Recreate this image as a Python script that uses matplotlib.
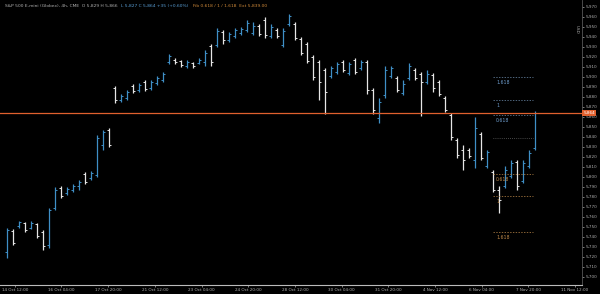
import numpy as np
import matplotlib.pyplot as plt

# OHLC bars (price units)
opens = [5725, 5746, 5751, 5754, 5749, 5753, 5745, 5732, 5769, 5789,
         5784, 5787, 5791, 5803, 5799, 5802, 5832, 5847, 5889, 5877,
         5879, 5891, 5887, 5895, 5889, 5894, 5897, 5915, 5917, 5916,
         5911, 5914, 5914, 5915, 5931, 5932, 5945, 5937, 5941, 5944,
         5947, 5944, 5951, 5957, 5941, 5947, 5932, 5953, 5953, 5938,
         5933, 5920, 5915, 5907, 5901, 5905, 5915, 5904, 5917, 5909,
         5915, 5887, 5859, 5882, 5901, 5899, 5884, 5899, 5907, 5903,
         5895, 5902, 5895, 5879, 5862, 5837, 5827, 5827, 5817, 5843,
         5811, 5805, 5787, 5791, 5801, 5815, 5796, 5811, 5829]
highs = [5749, 5748, 5756, 5755, 5756, 5754, 5747, 5769, 5790, 5791,
         5790, 5793, 5797, 5805, 5806, 5842, 5847, 5849, 5891, 5883,
         5887, 5893, 5894, 5897, 5897, 5901, 5905, 5923, 5919, 5917,
         5917, 5915, 5919, 5927, 5933, 5949, 5947, 5945, 5949, 5950,
         5957, 5955, 5953, 5960, 5953, 5949, 5949, 5963, 5955, 5940,
         5935, 5922, 5917, 5909, 5911, 5915, 5917, 5915, 5919, 5917,
         5917, 5889, 5879, 5911, 5911, 5901, 5897, 5914, 5909, 5905,
         5907, 5904, 5897, 5881, 5864, 5839, 5832, 5829, 5860, 5845,
         5827, 5807, 5791, 5811, 5817, 5817, 5817, 5827, 5866]
lows = [5719, 5732, 5749, 5745, 5748, 5739, 5727, 5729, 5767, 5779,
        5782, 5785, 5787, 5793, 5797, 5800, 5827, 5830, 5874, 5875,
        5877, 5884, 5885, 5886, 5887, 5892, 5895, 5913, 5913, 5910,
        5909, 5909, 5913, 5911, 5911, 5930, 5933, 5935, 5939, 5942,
        5945, 5942, 5941, 5939, 5939, 5939, 5930, 5951, 5937, 5922,
        5914, 5897, 5877, 5863, 5899, 5903, 5905, 5902, 5903, 5907,
        5883, 5863, 5854, 5879, 5899, 5885, 5882, 5897, 5897, 5861,
        5893, 5885, 5881, 5865, 5837, 5819, 5807, 5819, 5809, 5817,
        5809, 5785, 5764, 5789, 5799, 5787, 5794, 5809, 5827]
closes = [5747, 5734, 5755, 5747, 5754, 5741, 5731, 5767, 5787, 5781,
          5788, 5791, 5795, 5795, 5804, 5839, 5845, 5832, 5877, 5881,
          5885, 5886, 5892, 5888, 5895, 5899, 5903, 5921, 5915, 5912,
          5915, 5911, 5917, 5924, 5915, 5946, 5937, 5943, 5947, 5948,
          5954, 5951, 5943, 5942, 5950, 5941, 5946, 5961, 5939, 5924,
          5916, 5900, 5895, 5885, 5909, 5913, 5907, 5913, 5905, 5915,
          5887, 5867, 5875, 5907, 5909, 5887, 5893, 5911, 5899, 5895,
          5903, 5889, 5883, 5867, 5840, 5822, 5817, 5821, 5849, 5819,
          5825, 5787, 5777, 5807, 5814, 5791, 5814, 5824, 5864]

last_price = 5864
fib_base = 5839
fib_up_range = 38
fib_down_range = 58
fib_ratios = [0.618, 1, 1.618]
fib_names = ["0.618", "1", "1.618"]

price_ticks = list(range(5700, 5980, 10))
time_labels = ["14 Oct 12:00", "16 Oct 04:00", "17 Oct 20:00", "21 Oct 12:00",
               "23 Oct 04:00", "24 Oct 20:00", "28 Oct 12:00", "30 Oct 04:00",
               "31 Oct 20:00", "4 Nov 12:00", "6 Nov 04:00", "7 Nov 20:00",
               "11 Nov 12:00"]
header = [("S&P 500 E-mini (Globex), 4h, CME  O 5,829 H 5,866", "#b0b0b0"),
          ("L 5,827 C 5,864 +35 (+0.60%)", "#5a9fd6"),
          ("Fib 0.618 / 1 / 1.618  Ext 5,839.00", "#d08a3a")]

blue = "#3f8fc6"
white = "#e6e6e6"
orange = "#e0602e"
tan = "#c08a4a"
grey = "#b0b0b0"

ylo, yhi = 5692, 5977

fig = plt.figure(figsize=(6, 2.94), dpi=100, facecolor="black")
ax = fig.add_axes([0, 9 / 294, 582 / 600, 285 / 294], facecolor="black")

x = np.arange(len(opens))
o = np.array(opens)
c = np.array(closes)
cols = [blue if cc >= oo else white for oo, cc in zip(o, c)]

# OHLC bars: high-low stick plus open (left) and close (right) ticks
ax.vlines(x, lows, highs, colors=cols, linewidth=0.9)
ax.hlines(o, x - 0.3, x, colors=cols, linewidth=0.7)
ax.hlines(c, x, x + 0.3, colors=cols, linewidth=0.7)

# current price line
ax.axhline(last_price, color=orange, linewidth=0.9, zorder=5)

# fibonacci extension levels
fx0, fx1 = 81, 87.7
ax.hlines(fib_base, fx0, fx1, colors="#888888", linewidth=0.5, linestyles=(0, (1, 2)))
for r, name in zip(fib_ratios, fib_names):
    yu = fib_base + r * fib_up_range
    yd = fib_base - r * fib_down_range
    ax.hlines(yu, fx0, fx1, colors="#6f8fb0", linewidth=0.5, linestyles=(0, (2, 2)))
    ax.hlines(yd, fx0, fx1, colors=tan, linewidth=0.5, linestyles=(0, (2, 2)))
    ax.text(fx0 + 0.5, yu - 3, name, color="#6f9fd0", fontsize=3.3, va="top")
    ax.text(fx0 + 0.5, yd - 3, name, color=tan, fontsize=3.3, va="top")

ax.set_xlim(-7 / 6, 575 / 6)
ax.set_ylim(ylo, yhi)

# axes look
for s in ["top", "left"]:
    ax.spines[s].set_visible(False)
ax.spines["right"].set_color("#555555")
ax.spines["bottom"].set_color("#bbbbbb")
ax.spines["right"].set_linewidth(0.6)
ax.spines["bottom"].set_linewidth(0.8)

ax.yaxis.tick_right()
ax.set_yticks(price_ticks)
ax.set_yticklabels(["{:,}".format(p) for p in price_ticks])
ax.tick_params(axis="y", colors=grey, labelsize=3.0, length=1.5, width=0.5, pad=1)

xt = 1.3 + 7.78 * np.arange(len(time_labels))
ax.set_xticks(xt)
ax.set_xticklabels(time_labels)
ax.tick_params(axis="x", colors=grey, labelsize=3.0, length=1.5, width=0.5, pad=0.8)

# price label box on the axis
ax.text(1.002, (last_price - ylo) / (yhi - ylo), "{:,}".format(last_price),
        transform=ax.transAxes, fontsize=3.0, color="white", va="center", ha="left",
        bbox=dict(boxstyle="square,pad=0.3", fc=orange, ec="none"), zorder=6)

# header line, segments placed one after another
r = fig.canvas.get_renderer()
hx = 0.008
for txt, col in header:
    t = fig.text(hx, 0.987, txt, color=col, fontsize=3.2, va="top")
    bb = t.get_window_extent(renderer=r)
    hx = (bb.x1 + 4) / fig.bbox.width
fig.text(0.957, 0.9, "USD", color=grey, fontsize=3, rotation=270, va="center")

plt.savefig("out.png", dpi=100, facecolor="black")
